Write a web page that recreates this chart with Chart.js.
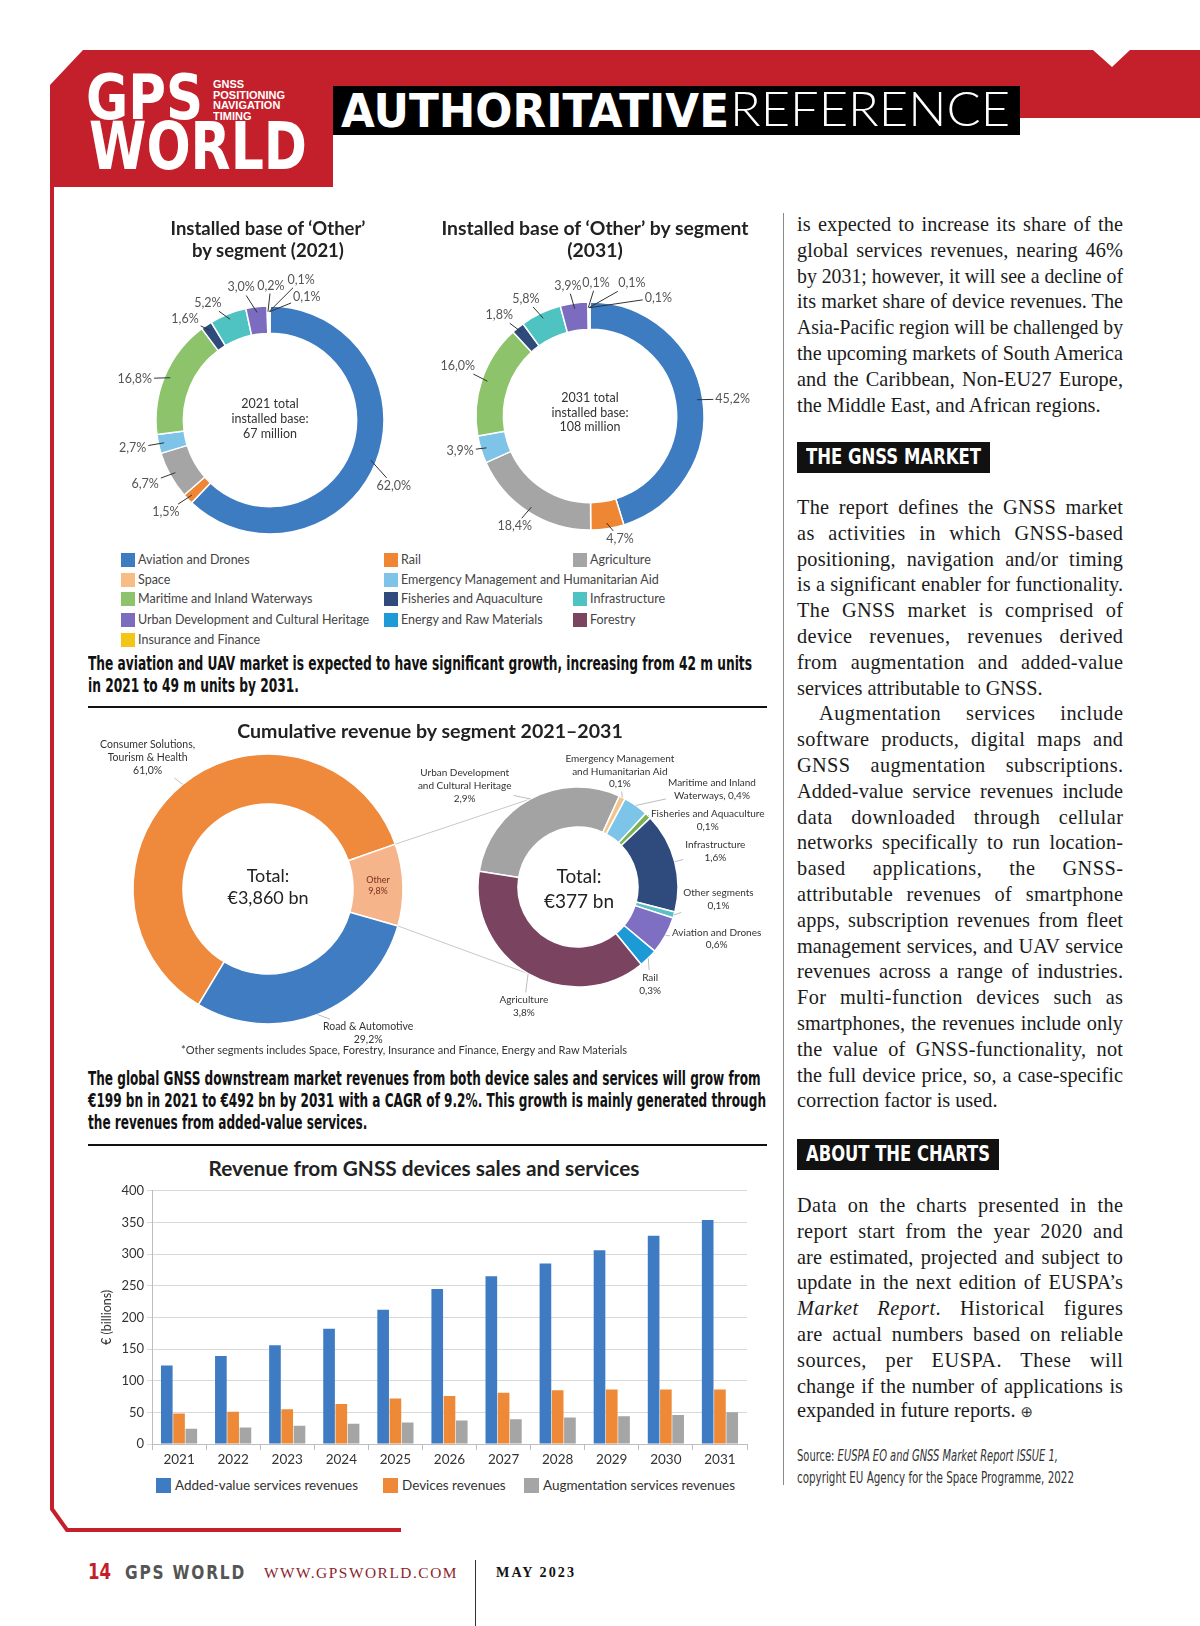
<!DOCTYPE html>
<html lang="en">
<head>
<meta charset="utf-8">
<title>GPS World – Authoritative Reference</title>
<script src="https://cdn.jsdelivr.net/npm/chart.js@4.4.1/dist/chart.umd.min.js"></script>
<style>
  html, body { margin: 0; padding: 0; background: #fff; }
  #page { position: relative; width: 1200px; height: 1626px; overflow: hidden; background: #fff;
          font-family: Lato, "Open Sans", sans-serif; color: #222; }
  .abs { position: absolute; white-space: nowrap; }
  .cv { position: absolute; }
  .box { position: absolute; }
  .lg { position: absolute; white-space: nowrap; }
  .lg i { position: absolute; top: 0; }
</style>
</head>
<body>
<div id="page">
  <!-- masthead + page frame -->
  <svg class="box" style="left:0;top:0" width="1200" height="1626">
    <polygon fill="#c3202b" points="83,50 1093,50 1112,67 1130,50 1200,50 1200,118 333,118 333,187 50,187 50,85"/>
    <polyline fill="none" stroke="#c3202b" stroke-width="4" points="52,186 52,1509 67,1530 401,1530"/>
  </svg>
  <div class="box" style="left:333px;top:86px;width:687px;height:49px;background:#000"></div>

  <!-- rules -->
  <div class="box" style="left:88px;top:706px;width:679px;height:2px;background:#111"></div>
  <div class="box" style="left:88px;top:1144px;width:679px;height:2px;background:#111"></div>
  <div class="box" style="left:783px;top:213px;width:1px;height:1272px;background:#8a8a8a"></div>
  <div class="box" style="left:475px;top:1560px;width:1px;height:66px;background:#333"></div>
  <div class="box" style="left:797px;top:442px;width:193px;height:31px;background:#111"></div>
  <div class="box" style="left:797px;top:1139px;width:202px;height:31px;background:#111"></div>

  <div id="legendInst"></div>
  <div id="legendRev"></div>

  <canvas id="inst2021" class="cv" width="330" height="320" style="left:105px;top:260px"></canvas>
  <canvas id="inst2031" class="cv" width="350" height="300" style="left:415px;top:266px"></canvas>
  <canvas id="cumTotal" class="cv" width="410" height="330" style="left:63px;top:724px"></canvas>
  <canvas id="cumOther" class="cv" width="410" height="290" style="left:373px;top:742px"></canvas>
  <canvas id="revChart" class="cv" width="690" height="292" style="left:80px;top:1180px"></canvas>
</div>

<script>
// ---- data ----
// installed base of 'Other' by segment (share in %), clockwise from 12 o'clock
const instSegments = ["Aviation and Drones", "Rail", "Agriculture", "Emergency Management and Humanitarian Aid",
  "Maritime and Inland Waterways", "Fisheries and Aquaculture", "Infrastructure",
  "Urban Development and Cultural Heritage", "Energy and Raw Materials", "Forestry", "Insurance and Finance"];
const instShare2021 = [62.0, 1.5, 6.7, 2.7, 16.8, 1.6, 5.2, 3.0, 0.2, 0.1, 0.1];
const instShare2031 = [45.2, 4.7, 18.4, 3.9, 16.0, 1.8, 5.8, 3.9, 0.1, 0.1, 0.1];

// legend of the two installed-base donuts
const legendSegments = ["Aviation and Drones", "Space", "Maritime and Inland Waterways",
  "Urban Development and Cultural Heritage", "Insurance and Finance", "Rail",
  "Emergency Management and Humanitarian Aid", "Fisheries and Aquaculture", "Energy and Raw Materials",
  "Agriculture", "Infrastructure", "Forestry"];

// cumulative revenue by segment 2021-2031 (share in %)
const cumSegments = ["Consumer Solutions,\nTourism & Health", "Other", "Road & Automotive"];
const cumShare = [61.0, 9.8, 29.2];
const cumOtherSegments = ["Urban Development\nand Cultural Heritage", "Emergency Management\nand Humanitarian Aid",
  "Maritime and Inland\nWaterways,", "Fisheries and Aquaculture", "Infrastructure", "Other segments",
  "Aviation and Drones", "Rail", "Agriculture"];
const cumOtherShare = [2.9, 0.1, 0.4, 0.1, 1.6, 0.1, 0.6, 0.3, 3.8];

// revenue from GNSS devices sales and services (EUR bn)
const years = ["2021", "2022", "2023", "2024", "2025", "2026", "2027", "2028", "2029", "2030", "2031"];
const revSeries = ["Added-value services revenues", "Devices revenues", "Augmentation services revenues"];
const addedValueRev = [124, 139, 156, 182, 212, 245, 265, 285, 306, 329, 354];
const devicesRev = [48, 51, 55, 63, 72, 76, 81, 85, 86, 86, 86];
const augmentationRev = [24, 26, 29, 32, 34, 37, 39, 42, 44, 46, 50];

// ---- styles ----
const segColors = {
  "Aviation and Drones": "#3e7cc2", "Space": "#f7bd85", "Maritime and Inland Waterways": "#8dc36a",
  "Urban Development and Cultural Heritage": "#7c6cc0", "Insurance and Finance": "#f3c517", "Rail": "#ee8633",
  "Emergency Management and Humanitarian Aid": "#7ec3e8", "Fisheries and Aquaculture": "#2f4b7c",
  "Energy and Raw Materials": "#1e9ad6", "Agriculture": "#a5a5a5", "Infrastructure": "#4fc3c1", "Forestry": "#7b4460"
};
const cumColors = ["#ef8a3c", "#f5b48a", "#3f7cc2"];
const cumOtherColors = ["#a3a3a3", "#f2c58e", "#7cc4e8", "#77b255", "#2f4a7c", "#5bc0c6", "#7e6fc2", "#1c9ad6", "#7a4460"];
const revColors = ["#3f7bc3", "#ee8a37", "#a5a5a5"];

// label placement: [compass angle in degrees, radius as multiple of outer radius]
const inst2021LabelAt = [[118, 1.23], [228.5, 1.22], [242.9, 1.23], [258.4, 1.23], [287, 1.24], [320, 1.16],
  [332, 1.16], [347.7, 1.19], [0.4, 1.18], [12.5, 1.26], [16.6, 1.13]];
const inst2031LabelAt = [[83.2, 1.26], [166.3, 1.11], [214.3, 1.17], [254.9, 1.18], [290.7, 1.24], [318, 1.19],
  [331.3, 1.17], [350.4, 1.16], [2.6, 1.17], [17.5, 1.22], [30, 1.2]];
const cumLabelAt = [[317.5, 1.32], "in", [145.2, 1.30]];
const cumOtherLabelAt = [[311.8, 1.52], [19.9, 1.23], [53.8, 1.66], [62.7, 1.46], [75.3, 1.42], [94.9, 1.41],
  [110.5, 1.48], [143.4, 1.21], [204.4, 1.31]];

const serifFam = '"Liberation Serif", "DejaVu Serif", serif';
const narrowFam = '"Liberation Sans Narrow", "DejaVu Sans Condensed", sans-serif';

const fmtPct = v => v.toFixed(1).replace(".", ",") + "%";

document.addEventListener("DOMContentLoaded", () => {
  const page = document.getElementById("page");

  // absolutely placed text; optionally squeezed (fit 'x') or resized (fit 'size') to a width
  function addText(html, o) {
    const el = document.createElement("div");
    el.className = "abs";
    el.innerHTML = html;
    el.style.fontSize = o.size + "px";
    el.style.lineHeight = (o.lh || o.size * 1.2) + "px";
    el.style.fontWeight = o.weight || 400;
    el.style.color = o.color || "#222";
    if (o.family) el.style.fontFamily = o.family;
    if (o.ls) el.style.letterSpacing = o.ls + "px";
    if (o.cx !== undefined) el.style.textAlign = "center";
    page.appendChild(el);
    let w = el.getBoundingClientRect().width;
    if (o.w && o.fit === "size") {
      el.style.fontSize = (o.size * o.w / w) + "px";
      w = el.getBoundingClientRect().width;
    }
    if (o.w && o.fit === "x") {
      el.style.transformOrigin = "0 0";
      el.style.transform = `scaleX(${o.w / w})`;
      w = o.w;
    }
    const h = el.getBoundingClientRect().height;
    el.style.left = (o.cx !== undefined ? o.cx - w / 2 : o.x) + "px";
    el.style.top = (o.cy - h / 2) + "px";
    return el;
  }

  // ---- masthead ----
  addText("GPS", { x: 86, cy: 97.7, size: 62, lh: 62, weight: 700, family: narrowFam, color: "#fff", w: 117, fit: "x" });
  addText("WORLD", { x: 89, cy: 147, size: 66, lh: 66, weight: 700, family: narrowFam, color: "#fff", w: 218, fit: "x" });
  addText("GNSS<br>POSITIONING<br>NAVIGATION<br>TIMING", { x: 213, cy: 100, size: 10.5, lh: 10.5, weight: 700,
    family: '"Liberation Sans", Arial, sans-serif', color: "#fff", w: 72, fit: "x" });
  addText("AUTHORITATIVE", { x: 341, cy: 111, size: 46, lh: 49, weight: 700, family: '"DejaVu Sans", sans-serif',
    color: "#fff", w: 388, fit: "x" });
  addText("REFERENCE", { x: 730, cy: 108.7, size: 47, lh: 49, weight: 300, family: "Lato, Roboto, sans-serif",
    color: "#fff", w: 280, fit: "x" });

  // ---- figure 1 texts ----
  addText("Installed base of ‘Other’<br>by segment (2021)", { cx: 268, cy: 239, size: 17, lh: 22, weight: 700, w: 195, fit: "size" });
  addText("Installed base of ‘Other’ by segment<br>(2031)", { cx: 595, cy: 239, size: 17, lh: 22, weight: 700, w: 307, fit: "size" });
  addText("2021 total<br>installed base:<br>67 million", { cx: 270, cy: 418, size: 12.5, lh: 15, color: "#333" });
  addText("2031 total<br>installed base:<br>108 million", { cx: 590, cy: 413, size: 12.5, lh: 14.5, color: "#333" });

  // HTML legend helper: colour square + label
  function legendItem(parent, name, color, x, cy, sq, size, textX, textColor) {
    const el = document.createElement("div");
    el.className = "lg";
    el.style.left = textX + "px";
    el.style.top = (cy - sq / 2) + "px";
    el.style.fontSize = size + "px";
    el.style.lineHeight = sq + "px";
    el.style.color = textColor;
    el.innerHTML = `<i style="left:${x - textX}px;width:${sq}px;height:${sq}px;background:${color}"></i>${name}`;
    parent.appendChild(el);
  }

  // shared legend of the installed-base donuts
  const legendCols = [121, 384, 573];
  const legendRows = [560, 580, 599, 620, 640];
  const legendCells = [[0, 0], [0, 1], [0, 2], [0, 3], [0, 4], [1, 0], [1, 1], [1, 2], [1, 3], [2, 0], [2, 2], [2, 3]];
  const legendInst = document.getElementById("legendInst");
  legendSegments.forEach((name, i) => {
    const [c, r] = legendCells[i];
    legendItem(legendInst, name, segColors[name], legendCols[c], legendRows[r], 14, 12.5, legendCols[c] + 17, "#444");
  });

  addText("The aviation and UAV market is expected to have significant growth, increasing from 42 m units<br>" +
    "in 2021 to 49 m units by 2031.", { x: 88, cy: 674.5, size: 19, lh: 21.5, weight: 700, family: narrowFam,
    color: "#111", w: 664, fit: "x" });

  // ---- figure 2 texts ----
  addText("Cumulative revenue by segment 2021–2031", { cx: 430, cy: 730, size: 17.5, weight: 700, w: 386, fit: "size" });
  addText("Total:<br>€3,860 bn", { cx: 268, cy: 886, size: 18, lh: 22, color: "#222" });
  addText("Total:<br>€377 bn", { cx: 579, cy: 887.5, size: 19, lh: 25, color: "#222" });
  addText("*Other segments includes Space, Forestry, Insurance and Finance, Energy and Raw Materials",
    { x: 181, cy: 1050, size: 10, color: "#333", w: 447, fit: "size" });

  addText("The global GNSS downstream market revenues from both device sales and services will grow from<br>" +
    "€199 bn in 2021 to €492 bn by 2031 with a CAGR of 9.2%. This growth is mainly generated through<br>" +
    "the revenues from added-value services.", { x: 88, cy: 1100, size: 19, lh: 22, weight: 700,
    family: narrowFam, color: "#111", w: 678, fit: "x" });

  addText("Revenue from GNSS devices sales and services", { cx: 424, cy: 1168, size: 18, weight: 700, w: 431, fit: "size" });

  // legend of the bar chart
  const revLegendX = [156, 383, 524];
  const legendRev = document.getElementById("legendRev");
  revSeries.forEach((name, i) => {
    legendItem(legendRev, name, revColors[i], revLegendX[i], 1485, 15, 13.5, revLegendX[i] + 19, "#333");
  });

  // ---- right column ----
  const LH = 25.8;
  const colX = 797, colW = 326;
  const columnBlocks = [
    { top: 212, paras: [{ indent: 0, lines: [
      "is expected to increase its share of the",
      "global services revenues, nearing 46%",
      "by 2031; however, it will see a decline of",
      "its market share of device revenues. The",
      "Asia-Pacific region will be challenged by",
      "the upcoming markets of South America",
      "and the Caribbean, Non-EU27 Europe,",
      "the Middle East, and African regions."] }] },
    { top: 495, paras: [{ indent: 0, lines: [
      "The report defines the GNSS market",
      "as activities in which GNSS-based",
      "positioning, navigation and/or timing",
      "is a significant enabler for functionality.",
      "The GNSS market is comprised of",
      "device revenues, revenues derived",
      "from augmentation and added-value",
      "services attributable to GNSS."] },
      { indent: 22, lines: [
      "Augmentation services include",
      "software products, digital maps and",
      "GNSS augmentation subscriptions.",
      "Added-value service revenues include",
      "data downloaded through cellular",
      "networks specifically to run location-",
      "based applications, the GNSS-",
      "attributable revenues of smartphone",
      "apps, subscription revenues from fleet",
      "management services, and UAV service",
      "revenues across a range of industries.",
      "For multi-function devices such as",
      "smartphones, the revenues include only",
      "the value of GNSS-functionality, not",
      "the full device price, so, a case-specific",
      "correction factor is used."] }] },
    { top: 1193, paras: [{ indent: 0, lines: [
      "Data on the charts presented in the",
      "report start from the year 2020 and",
      "are estimated, projected and subject to",
      "update in the next edition of EUSPA’s",
      "<i>Market Report</i>. Historical figures",
      "are actual numbers based on reliable",
      "sources, per EUSPA. These will",
      "change if the number of applications is",
      "expanded in future reports. <span style=\"font-family:'DejaVu Sans';font-size:15px;color:#333\">⊕</span>"] }] }
  ];
  columnBlocks.forEach(block => {
    let row = 0;
    block.paras.forEach(p => {
      p.lines.forEach((line, k) => {
        const first = k === 0;
        const last = k === p.lines.length - 1;
        const x = colX + (first ? p.indent : 0);
        const width = colW - (first ? p.indent : 0);
        const el = addText(line, { x, cy: block.top + row * LH + LH / 2, size: 20.3, lh: LH, family: serifFam, color: "#1b1b1b" });
        let nat = el.getBoundingClientRect().width;
        const text = el.textContent;
        const spaces = (text.match(/ /g) || []).length;
        if (nat > width) {
          el.style.transformOrigin = "0 0";
          el.style.transform = `scaleX(${width / nat})`;
        } else if (!last && spaces) {
          // share the slack between letter spacing and word spacing
          const ls = Math.min(0.5, (width - nat) * 0.3 / text.length);
          el.style.letterSpacing = ls + "px";
          nat = el.getBoundingClientRect().width - ls;
          el.style.wordSpacing = Math.max(0, (width - nat) / spaces) + "px";
        }
        row++;
      });
    });
  });

  addText("THE GNSS MARKET", { x: 806, cy: 457.5, size: 21, lh: 31, weight: 700, family: narrowFam, color: "#fff", w: 175, fit: "x" });
  addText("ABOUT THE CHARTS", { x: 806, cy: 1154.5, size: 21, lh: 31, weight: 700, family: narrowFam, color: "#fff", w: 184, fit: "x" });
  addText("Source: <i>EUSPA EO and GNSS Market Report ISSUE 1,</i>", { x: 797, cy: 1456, size: 15, family: narrowFam, color: "#333", w: 261, fit: "x" });
  addText("copyright EU Agency for the Space Programme, 2022", { x: 797, cy: 1478, size: 15, family: narrowFam, color: "#333", w: 277, fit: "x" });

  // ---- footer ----
  addText("14", { x: 88, cy: 1572, size: 22, weight: 700, family: narrowFam, color: "#c3202b", w: 23, fit: "x" });
  addText("GPS WORLD", { x: 125, cy: 1572, size: 19, weight: 700, family: narrowFam, ls: 2, color: "#555", w: 121, fit: "x" });
  addText("WWW.GPSWORLD.COM", { x: 264, cy: 1573, size: 15, family: serifFam, ls: 1.5, color: "#8b1f2e", w: 194, fit: "x" });
  addText("MAY 2023", { x: 496, cy: 1573, size: 14, weight: 700, family: serifFam, ls: 2, color: "#111", w: 80, fit: "x" });

  // ---- charts ----
  Chart.defaults.font.family = 'Lato, "Open Sans", sans-serif';

  // labels with leader lines around a doughnut
  function callouts(cfg) {
    return {
      id: "callouts",
      afterDatasetsDraw(chart) {
        const ctx = chart.ctx;
        const arcs = chart.getDatasetMeta(0).data;
        ctx.save();
        ctx.textAlign = "center";
        ctx.textBaseline = "middle";
        arcs.forEach((arc, i) => {
          const p = arc.getProps(["x", "y", "startAngle", "endAngle", "innerRadius", "outerRadius"], true);
          const mid = (p.startAngle + p.endAngle) / 2;
          const lines = cfg.texts[i];
          const inside = cfg.at[i] === "in";
          const size = inside ? cfg.insideSize : cfg.size;
          ctx.font = `${size}px Lato, "Open Sans", sans-serif`;
          const lh = inside ? cfg.insideLh : cfg.lh;
          const w = Math.max(...lines.map(t => ctx.measureText(t).width));
          const h = lines.length * lh;
          let cx, cy;
          if (inside) {
            const r = (p.innerRadius + p.outerRadius) / 2;
            cx = p.x + r * Math.cos(mid);
            cy = p.y + r * Math.sin(mid);
          } else {
            const a = (cfg.at[i][0] - 90) * Math.PI / 180;
            const r = cfg.at[i][1] * p.outerRadius;
            cx = p.x + r * Math.cos(a);
            cy = p.y + r * Math.sin(a);
            const sx = p.x + p.outerRadius * cfg.from * Math.cos(mid);
            const sy = p.y + p.outerRadius * cfg.from * Math.sin(mid);
            const dx = cx - sx, dy = cy - sy;
            const s = Math.min(dx ? (w / 2 + 2) / Math.abs(dx) : Infinity, dy ? (h / 2 + 1) / Math.abs(dy) : Infinity);
            if (s < 1) {
              ctx.beginPath();
              ctx.moveTo(sx, sy);
              ctx.lineTo(cx - s * dx, cy - s * dy);
              ctx.strokeStyle = cfg.lineColor;
              ctx.lineWidth = 1;
              ctx.stroke();
            }
          }
          ctx.fillStyle = inside ? cfg.insideColor : cfg.color;
          lines.forEach((t, k) => ctx.fillText(t, cx, cy - h / 2 + lh * (k + 0.5)));
        });
        ctx.restore();
      }
    };
  }

  function donut(id, labels, values, colors, radius, cutout, rotation, plugins) {
    return new Chart(document.getElementById(id), {
      type: "doughnut",
      data: { labels, datasets: [{ data: values, backgroundColor: colors, borderColor: "#fff", borderWidth: 1.5 }] },
      options: {
        responsive: false,
        animation: false,
        radius,
        cutout,
        rotation,
        plugins: { legend: { display: false }, tooltip: { enabled: false } }
      },
      plugins
    });
  }

  const instColors = instSegments.map(s => segColors[s]);
  const instCallout = (shares, at) => callouts({
    at, texts: shares.map(v => [fmtPct(v)]), size: 12.5, lh: 14, color: "#555", lineColor: "#333", from: 0.95
  });
  donut("inst2021", instSegments, instShare2021, instColors, 114, "76%", 0, [instCallout(instShare2021, inst2021LabelAt)]);
  donut("inst2031", instSegments, instShare2031, instColors, 114, "76%", 0, [instCallout(instShare2031, inst2031LabelAt)]);

  const labelLines = (names, shares) => names.map((n, i) => {
    const parts = n.split("\n");
    if (n.endsWith(",")) { parts[parts.length - 1] += " " + fmtPct(shares[i]); return parts; }
    return [...parts, fmtPct(shares[i])];
  });

  const cumChart = donut("cumTotal", cumSegments, cumShare, cumColors, 135, "63%", 211, [callouts({
    at: cumLabelAt, texts: labelLines(cumSegments, cumShare), size: 10.5, lh: 13, color: "#333",
    lineColor: "#bdbdbd", from: 1.0, insideSize: 9, insideLh: 11, insideColor: "#7d2e1e"
  })]);

  // grey lines joining the 'Other' slice to the breakdown donut
  const srcPos = { left: 63, top: 724 }, dstPos = { left: 373, top: 742 };
  const connectors = {
    id: "connectors",
    beforeDatasetsDraw(chart) {
      const ctx = chart.ctx;
      const o = cumChart.getDatasetMeta(0).data[1].getProps(["x", "y", "startAngle", "endAngle", "outerRadius"], true);
      const dst = chart.getDatasetMeta(0).data;
      const ox = srcPos.left - dstPos.left, oy = srcPos.top - dstPos.top;
      const edge = (a, r, x, y) => [x + r * Math.cos(a), y + r * Math.sin(a)];
      const pairs = [
        [o.startAngle, dst[0]],
        [o.endAngle, dst[dst.length - 1]]
      ];
      ctx.save();
      ctx.strokeStyle = "#c8c8c8";
      ctx.lineWidth = 1;
      pairs.forEach(([a, arc]) => {
        const q = arc.getProps(["x", "y", "startAngle", "endAngle", "outerRadius"], true);
        const [x1, y1] = edge(a, o.outerRadius, o.x + ox, o.y + oy);
        const [x2, y2] = edge((q.startAngle + q.endAngle) / 2, q.outerRadius, q.x, q.y);
        ctx.beginPath();
        ctx.moveTo(x1, y1);
        ctx.lineTo(x2, y2);
        ctx.stroke();
      });
      ctx.restore();
    }
  };
  donut("cumOther", cumOtherSegments, cumOtherShare, cumOtherColors, 100, "60%", 279, [connectors, callouts({
    at: cumOtherLabelAt, texts: labelLines(cumOtherSegments, cumOtherShare), size: 10, lh: 12.8, color: "#333",
    lineColor: "#bdbdbd", from: 1.0
  })]);

  // bar chart
  new Chart(document.getElementById("revChart"), {
    type: "bar",
    data: {
      labels: years,
      datasets: [addedValueRev, devicesRev, augmentationRev].map((data, i) => ({
        label: revSeries[i], data, backgroundColor: revColors[i]
      }))
    },
    options: {
      responsive: false,
      animation: false,
      layout: { padding: { left: 0, right: 23, top: 8, bottom: 0 } },
      datasets: { bar: { categoryPercentage: 0.68, barPercentage: 0.95 } },
      plugins: { legend: { display: false }, tooltip: { enabled: false } },
      scales: {
        x: {
          grid: { drawOnChartArea: false, tickLength: 6, color: "#bdbdbd" },
          border: { color: "#bdbdbd" },
          ticks: { color: "#333", font: { size: 13.5 }, padding: 2 },
          afterFit: s => { s.height = 28; }
        },
        y: {
          min: 0,
          max: 400,
          ticks: { stepSize: 50, color: "#333", font: { size: 13 }, padding: 3 },
          grid: { color: "#d9d9d9", tickLength: 5 },
          border: { color: "#bdbdbd" },
          title: { display: true, text: "€ (billions)", color: "#333", font: { size: 12.5 }, padding: { top: 19, bottom: 0 } },
          afterFit: s => { s.width = 72; }
        }
      }
    }
  });
});
</script>
</body>
</html>
